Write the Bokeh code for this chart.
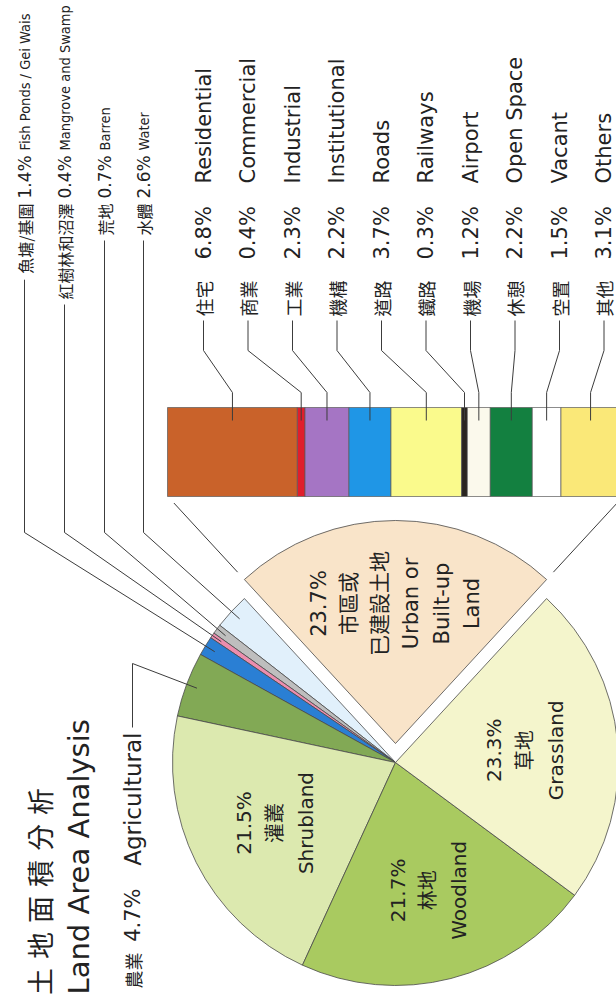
import math
import numpy as np
from bokeh.plotting import figure
from bokeh.models import Range1d
from bokeh.core.properties import value
from bokeh.embed import file_html
from bokeh.resources import INLINE

# ---------------- data ----------------
# Land cover (pie), in drawing order starting with the exploded slice
pie_en = ["Urban or\nBuilt-up\nLand", "Water", "Barren", "Mangrove and Swamp",
          "Fish Ponds / Gei Wais", "Agricultural", "Shrubland", "Woodland", "Grassland"]
pie_zh = ["市區或\n已建設土地", "水體", "荒地", "紅樹林和沼澤",
          "魚塘/基圍", "農業", "灌叢", "林地", "草地"]
pie_pct = [23.7, 2.6, 0.7, 0.4, 1.4, 4.7, 21.5, 21.7, 23.3]
pie_colors = ["#F9E4C9", "#E1F0FB", "#BEBEBE", "#EC8DAE", "#2A7FD4",
              "#82A955", "#DCE9AF", "#A9CA60", "#F4F5CC"]

# Breakdown of urban / built-up land (bar)
bar_en = ["Residential", "Commercial", "Industrial", "Institutional", "Roads",
          "Railways", "Airport", "Open Space", "Vacant", "Others"]
bar_zh = ["住宅", "商業", "工業", "機構", "道路", "鐵路", "機場", "休憩", "空置", "其他"]
bar_pct = [6.8, 0.4, 2.3, 2.2, 3.7, 0.3, 1.2, 2.2, 1.5, 3.1]
bar_colors = ["#C9622A", "#E01E2C", "#A575C4", "#1F96E6", "#FAFA8C",
              "#2A2520", "#FBF9EC", "#138040", "#FFFFFF", "#FAE878"]

title_zh = "土地面積分析"
title_en = "Land Area Analysis"

# ---------------- figure ----------------
W, H = 616, 997
p = figure(width=W, height=H, x_range=Range1d(0, W), y_range=Range1d(0, H),
           output_backend="svg", toolbar_location=None, min_border=0,
           x_axis_location=None, y_axis_location=None)
p.outline_line_color = None
p.grid.visible = False
p.background_fill_color = "white"
p.border_fill_color = "white"

def Y(py):
    return H - py

LAT = value("DejaVu Sans, Noto Sans CJK TC")
NAR = value("DejaVu Sans Condensed, Liberation Sans Narrow, DejaVu Sans")
CJK = value("Noto Sans CJK TC")
LINE = "#3c3c3c"
TXT = "#222222"
ROT = math.pi / 2

# ---------------- pie ----------------
cx, cy = 395, Y(762)
R = 223
tot = sum(pie_pct)
spans = [v / tot * 2 * math.pi for v in pie_pct]
a = math.pi / 2 - spans[0] / 2
starts, ends = [], []
for s in spans:
    starts.append(a)
    a += s
    ends.append(a)
mids = [(s + e) / 2 for s, e in zip(starts, ends)]
explode = [19] + [0] * (len(pie_pct) - 1)
wx = [cx + d * math.cos(m) for d, m in zip(explode, mids)]
wy = [cy + d * math.sin(m) for d, m in zip(explode, mids)]
p.wedge(x=wx, y=wy, radius=R, start_angle=starts, end_angle=ends,
        fill_color=pie_colors, line_color="#4a4a4a", line_width=0.8)

# zoom lines from the exploded slice toward the bar
for ang in (starts[0], ends[0]):
    p.line([wx[0] + 233 * math.cos(ang), wx[0] + 327 * math.cos(ang)],
           [wy[0] + 233 * math.sin(ang), wy[0] + 327 * math.sin(ang)],
           line_color=LINE, line_width=1)

# labels inside big slices
big = [0, 6, 7, 8]
lab_r = {0: 140, 6: 135, 7: 132, 8: 130}
for i in big:
    txt = f"{pie_pct[i]}%\n{pie_zh[i]}\n{pie_en[i]}"
    lx = wx[i] + lab_r[i] * math.cos(mids[i])
    ly = wy[i] + lab_r[i] * math.sin(mids[i])
    p.text(x=[lx], y=[ly], text=[txt], angle=ROT, text_align="center",
           text_baseline="middle", text_font=LAT,
           text_font_size="21px" if i == 0 else "20px",
           text_line_height=1.28, text_color=TXT)

# small slices: labels at top-left
small = [4, 3, 2, 1]            # Fish Ponds, Mangrove, Barren, Water
small_x = [24, 64, 104, 143]
for k, (i, x) in enumerate(zip(small, small_x)):
    p.text(x=[x], y=[Y(203)], text=[pie_zh[i]], angle=ROT, text_align="right",
           text_baseline="middle", text_font=CJK, text_font_size="16px",
           text_color=TXT)
    p.text(x=[x], y=[Y(198)], text=[f"{pie_pct[i]}%"], angle=ROT, text_align="left",
           text_baseline="middle", text_font=LAT, text_font_size="17px",
           text_color=TXT)
    p.text(x=[x], y=[Y(150)], text=[pie_en[i]], angle=ROT, text_align="left",
           text_baseline="middle", text_font=NAR, text_font_size="14.5px",
           text_color=TXT)
    zl = sum(1.0 if ord(c) > 0x2E80 else 0.45 for c in pie_zh[i]) * 16
    ex = cx + 212 * math.cos(mids[i])
    ey = cy + 212 * math.sin(mids[i])
    p.line([x, x, ex], [Y(203 + zl + 5), Y(532), ey], line_color=LINE, line_width=1)

# Agricultural label (bottom-left)
ai = 5
ax_ = 132
p.text(x=[ax_], y=[Y(732)], text=[pie_en[ai]], angle=ROT, text_align="right",
       text_baseline="middle", text_font=LAT, text_font_size="23px", text_color=TXT)
p.text(x=[ax_], y=[Y(888)], text=[f"{pie_pct[ai]}%"], angle=ROT, text_align="right",
       text_baseline="middle", text_font=LAT, text_font_size="21px", text_color=TXT)
p.text(x=[ax_], y=[Y(952)], text=[pie_zh[ai]], angle=ROT, text_align="right",
       text_baseline="middle", text_font=CJK, text_font_size="18px", text_color=TXT)
aex = cx + 212 * math.cos(mids[ai])
aey = cy + 212 * math.sin(mids[ai])
p.line([ax_, ax_, aex], [Y(727), Y(663), aey], line_color=LINE, line_width=1)

# ---------------- bar ----------------
bx0, scale = 167, 19.1
pct = np.array(bar_pct)
cum = np.cumsum(pct)
lefts = bx0 + scale * (cum - pct)
rights = bx0 + scale * cum
p.quad(left=lefts, right=rights, bottom=Y(496), top=Y(407),
       fill_color=bar_colors, line_color="#5a5a5a", line_width=0.7)

seg_c = (lefts + rights) / 2
lab_x = [203 + 44.5 * i for i in range(len(bar_pct))]
p.text(x=lab_x, y=[Y(316)] * len(lab_x), text=bar_zh, angle=ROT, text_align="left",
       text_baseline="middle", text_font=CJK, text_font_size="18px", text_color=TXT)
p.text(x=lab_x, y=[Y(259)] * len(lab_x), text=[f"{v}%" for v in bar_pct], angle=ROT,
       text_align="left", text_baseline="middle", text_font=LAT, text_font_size="21px",
       text_color=TXT)
p.text(x=lab_x, y=[Y(183)] * len(lab_x), text=bar_en, angle=ROT, text_align="left",
       text_baseline="middle", text_font=LAT, text_font_size="21px", text_color=TXT)
p.multi_line(xs=[[lx, lx, sc, sc] for lx, sc in zip(lab_x, seg_c)],
             ys=[[Y(320), Y(350), Y(392), Y(420)] for _ in lab_x],
             line_color=LINE, line_width=1)

# ---------------- title ----------------
tz_x = [39] * len(title_zh)
tz_y = [Y(981 - 36 * i) for i in range(len(title_zh))]
p.text(x=tz_x, y=tz_y, text=list(title_zh), angle=ROT, text_align="center",
       text_baseline="middle", text_font=CJK, text_font_size="27px", text_color=TXT)
p.text(x=[78], y=[Y(994)], text=[title_en], angle=ROT, text_align="left",
       text_baseline="middle", text_font=LAT, text_font_size="29px", text_color=TXT)

open("out.html", "w").write(file_html(p, INLINE))
